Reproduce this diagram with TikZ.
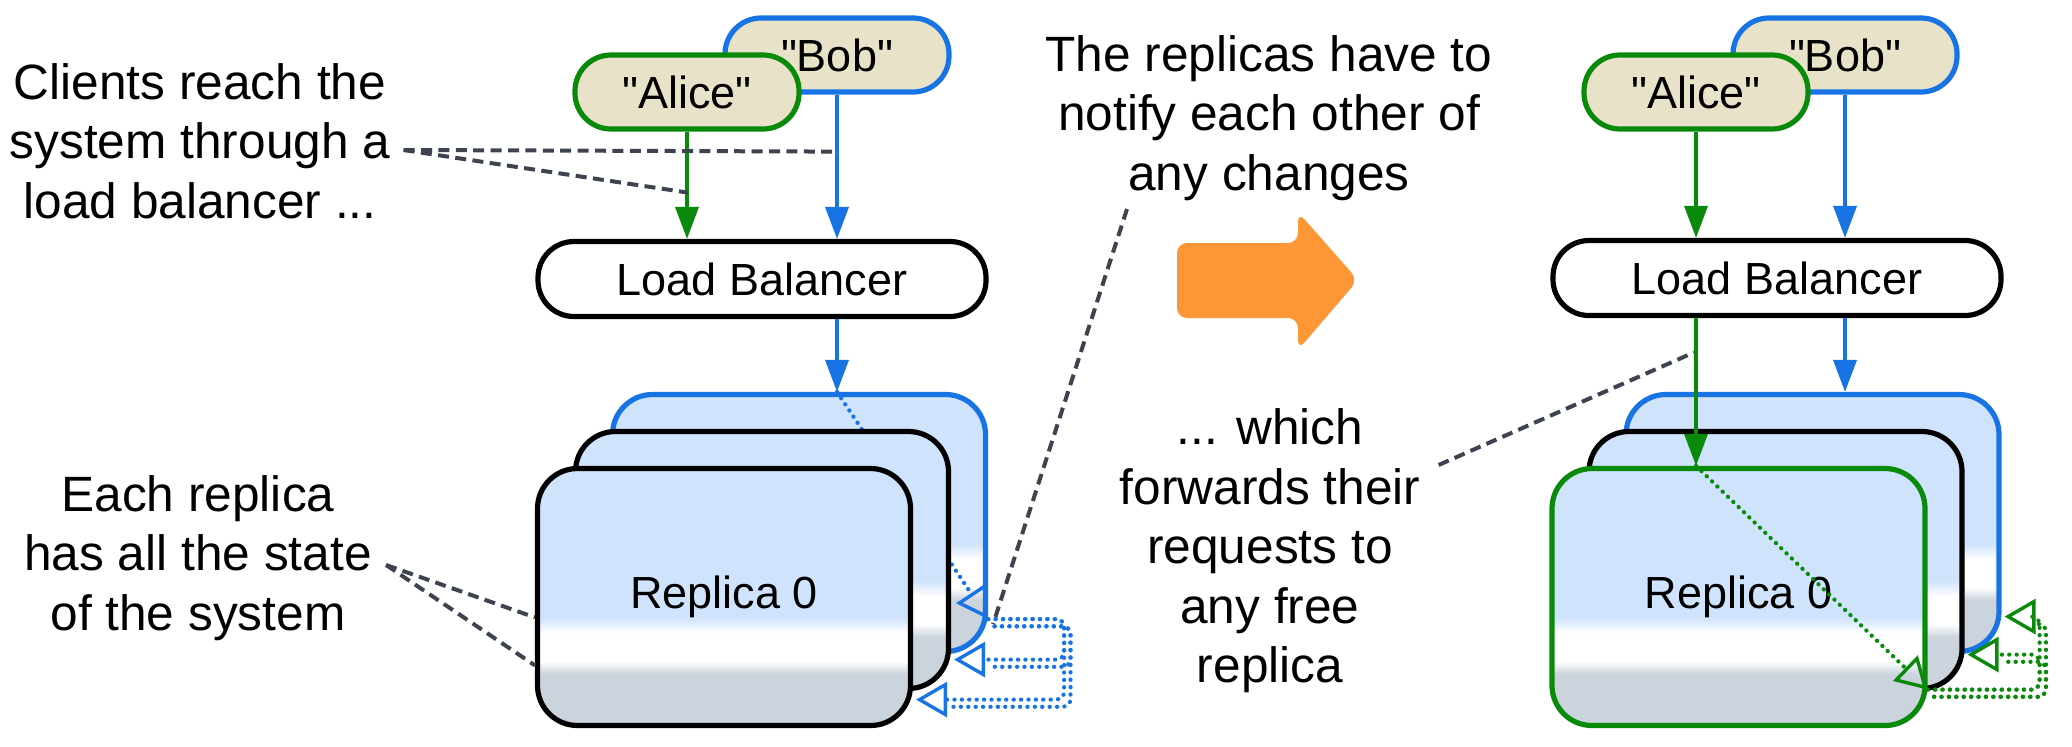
\documentclass[tikz,border=0pt]{standalone}
\usepackage{fontspec}
\setmainfont{Liberation Sans}[Ligatures=TeXOff]
\usetikzlibrary{arrows.meta,calc}
\definecolor{cgreen}{RGB}{10,138,10}
\definecolor{cblue}{RGB}{24,115,228}
\definecolor{cbeige}{RGB}{232,226,200}
\definecolor{repblue}{RGB}{207,227,252}
\definecolor{repgray}{RGB}{203,211,220}
\definecolor{dashgray}{RGB}{62,67,80}
\definecolor{corange}{RGB}{253,151,53}
\pgfdeclareverticalshading{replicashade}{100bp}{color(0bp)=(repgray); color(35bp)=(repgray); color(37.5bp)=(white); color(43bp)=(white); color(46bp)=(repblue); color(100bp)=(repblue)}
\begin{document}
\begin{tikzpicture}[x=0.5pt,y=-0.5pt,
  client/.style={draw, line width=2.6pt, fill=cbeige, rounded corners=18pt, minimum width=112pt, minimum height=37pt, inner sep=0pt, font=\fontsize{22.5}{27}\selectfont},
  lb/.style={draw=black, line width=2.6pt, fill=white, rounded corners=18pt, minimum width=224pt, minimum height=37.5pt, inner sep=0pt, font=\fontsize{22.5}{27}\selectfont},
  replica/.style={line width=2.6pt, shading=replicashade, rounded corners=20pt, minimum width=186.5pt, minimum height=128.5pt, inner sep=0pt, font=\fontsize{22.5}{27}\selectfont},
  note/.style={align=center, font=\fontsize{24.8}{29.75}\selectfont, inner sep=0pt},
  req/.style={line width=1.75pt, -{Triangle[length=16pt,width=11.5pt]}},
  dotl/.style={line width=2.1pt, dash pattern=on 0.1pt off 3.6pt, line cap=round},
  notify/.style={dotl, rounded corners=4pt},
  openhead/.style={-{Triangle[open, length=15.5pt, width=17.5pt, line width=1.7pt]}},
  annot/.style={draw=dashgray, line width=2pt, dash pattern=on 5.5pt off 3.2pt},
]
\useasboundingbox (0,0) rectangle (2072,746);

% ---------- texts ----------
\node[note] (clientsL) at (200,141) {Clients reach the\\system through a\\load balancer ...};
\node[note] (stateL) at (198,558) {Each replica\\has all the state\\of the system};
\node[note] (notifyM) at (1269,118) {The replicas have to\\notify each other of\\any changes};
\node[note] (forwardM) at (1270,551) {... which\\forwards their\\requests to\\any free\\replica};

% ---------- left diagram ----------
\node[client, draw=cblue] (bobL) at (837,55) {"Bob"};
\node[client, draw=cgreen] (aliceL) at (687,92) {"Alice"};
\node[lb] (lbL) at (762,279) {Load Balancer};

\node[replica, draw=cblue] (backL) at (799,523) {};
\coordinate (entryL) at (bobL.south |- backL.north);
\coordinate (nL0) at ($(backL.south east)+(0,-35)$);
\draw[cblue, dotl, openhead] (entryL) -- (nL0);
\node[replica, draw=black] (midL) at (762,560) {};
\node[replica, draw=black] (frontL) at (724,597) {Replica 0};

\draw[req, cgreen] (aliceL.south) -- (aliceL.south |- lbL.north);
\draw[req, cblue] (bobL.south) -- (bobL.south |- lbL.north);
\draw[req, cblue] (bobL.south |- lbL.south) -- (entryL);

\coordinate (nLm) at ($(midL.south east)+(3,-31.5)$);
\coordinate (nLf) at ($(frontL.south east)+(3,-28.5)$);
\coordinate (nLx) at ($(backL.south east)+(76,0)$);
\foreach \tgt in {nLm,nLf}{
  \draw[cblue, notify, openhead] (nL0) -| (nLx |- \tgt) -- (\tgt);
  \draw[cblue, notify, shorten >=15pt, transform canvas={xshift=3.2pt,yshift=-3.6pt}] (nL0) -| (nLx |- \tgt) -- (\tgt);
}

% ---------- orange arrow ----------
\fill[corange, rounded corners=5pt] (1177,243) -- (1298,243) -- (1298,212) -- (1358,280) -- (1298,350) -- (1298,318) -- (1177,318) -- cycle;

% ---------- right diagram ----------
\node[client, draw=cblue] (bobR) at (1845,55) {"Bob"};
\node[client, draw=cgreen] (aliceR) at (1696,92) {"Alice"};
\node[lb] (lbR) at (1777,278) {Load Balancer};

\node[replica, draw=cblue] (backR) at (1812.5,523) {};
\node[replica, draw=black] (midR) at (1775.5,560) {};
\node[replica, draw=cgreen] (frontR) at (1738.5,597) {Replica 0};

\draw[req, cgreen] (aliceR.south) -- (aliceR.south |- lbR.north);
\draw[req, cblue] (bobR.south) -- (bobR.south |- lbR.north);
\draw[req, cblue] (bobR.south |- lbR.south) -- (bobR.south |- backR.north);
\coordinate (entryR) at (aliceR.south |- frontR.north);
\draw[req, cgreen] (aliceR.south |- lbR.south) -- (entryR);

\coordinate (nR0) at ($(frontR.south east)+(0,-38.5)$);
\draw[cgreen, dotl, openhead] (entryR) -- (nR0);
\coordinate (nRm) at ($(midR.south east)+(3,-36.5)$);
\coordinate (nRb) at ($(backR.south east)+(3,-37.5)$);
\coordinate (nRx) at ($(frontR.south east)+(112,0)$);
\foreach \tgt in {nRm,nRb}{
  \draw[cgreen, notify, openhead] (nR0) -| (nRx |- \tgt) -- (\tgt);
  \draw[cgreen, notify, shorten >=15pt, transform canvas={xshift=3.2pt,yshift=-3.6pt}] (nR0) -| (nRx |- \tgt) -- (\tgt);
}

% ---------- annotation lines ----------
\coordinate (cA) at ($(clientsL.east)+(13,9)$);
\coordinate (cBob) at ($(bobL.south)+(1,57)$);
\coordinate (cAlice) at ($(aliceL.south)+(1,61)$);
\draw[annot] (cA) -- (cBob);
\draw[annot] (cA) -- (cAlice);

\coordinate (sA) at ($(stateL.east)+(14,7)$);
\coordinate (sB) at ($(frontL.north west)+(0,151.5)$);
\coordinate (sC) at ($(frontL.north west)+(0,199.5)$);
\draw[annot] (sA) -- (sB);
\draw[annot] (sA) -- (sC);

\coordinate (mA) at ($(notifyM.south)+(-142,8)$);
\coordinate (mB) at ($(nL0)+(5,5)$);
\draw[annot] (mA) -- (mB);

\coordinate (fA) at ($(forwardM.east)+(18,-86)$);
\coordinate (fB) at ($(entryR)+(-2,-113.5)$);
\draw[annot] (fA) -- (fB);
\end{tikzpicture}
\end{document}
